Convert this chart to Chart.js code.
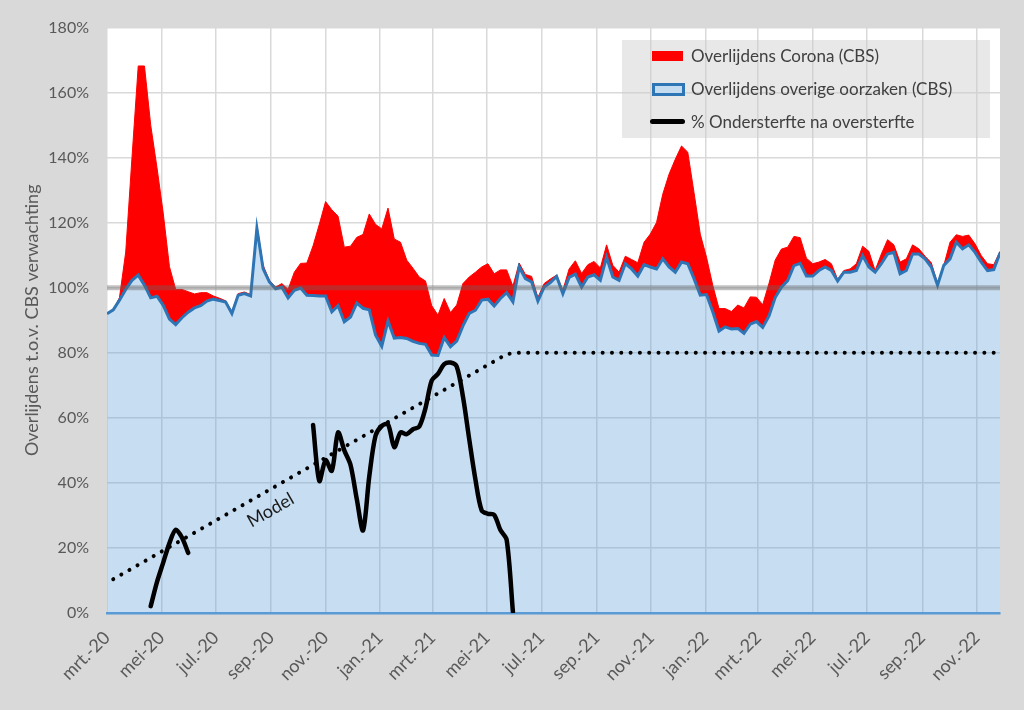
<!DOCTYPE html>
<html lang="nl">
<head>
<meta charset="UTF-8">
<title>Overlijdens t.o.v. CBS verwachting</title>
<script src="https://cdn.jsdelivr.net/npm/chart.js"></script>
<style>
  html, body { margin: 0; padding: 0; background: #d9d9d9; }
  #wrap { position: relative; width: 1024px; height: 710px; overflow: hidden; }
  #legenda {
    position: absolute; left: 622px; top: 40px; width: 368px; height: 98px;
    background: rgba(205, 205, 205, 0.45);
    font-family: Lato, sans-serif; font-size: 17px; color: #404040;
  }
  .rij { position: absolute; left: 69px; height: 20px; line-height: 20px; white-space: nowrap; }
  .sw { position: absolute; box-sizing: border-box; }
</style>
</head>
<body>
<div id="wrap">
  <canvas id="grafiek" width="1024" height="710"></canvas>
  <div id="legenda">
    <span class="sw" style="left:30px; top:11px; width:31px; height:10px; background:#ff0000;"></span>
    <div class="rij" style="top:6px;">Overlijdens Corona (CBS)</div>
    <span class="sw" style="left:30px; top:43px; width:33px; height:13px; background:#c5dcf0; border:3px solid #2e75b6;"></span>
    <div class="rij" style="top:39px;">Overlijdens overige oorzaken (CBS)</div>
    <span class="sw" style="left:28px; top:79px; width:35px; height:5px; background:#000; border-radius:3px;"></span>
    <div class="rij" style="top:72px;">% Ondersterfte na oversterfte</div>
  </div>
</div>

<script>
  // weken vanaf 1 maart 2020, sterfte in % van de CBS verwachting
  const startDatum = '2020-03-01';

  const overige = [
    92.0, 93.2, 96.2, 99.5, 102.3, 103.9, 100.8, 96.9, 97.4, 94.6,
    90.4, 88.7, 90.8, 92.5, 93.8, 94.5, 95.9, 96.5, 96.1, 95.6,
    92.1, 97.7, 98.2, 97.5, 118.3, 105.8, 101.8, 99.7, 100.2, 96.9,
    99.2, 99.9, 97.7, 97.6, 97.5, 97.5, 92.6, 94.5, 89.5, 91.0,
    95.3, 93.7, 93.2, 85.5, 82.0, 89.8, 84.5, 84.7, 84.4, 83.5,
    82.9, 82.6, 79.3, 79.2, 84.7, 81.9, 83.6, 88.3, 92.1, 93.1,
    96.2, 96.5, 94.4, 96.7, 98.5, 95.7, 106.4, 102.8, 101.8, 95.9,
    100.2, 101.6, 103.5, 98.2, 103.2, 104.2, 100.2, 103.3, 104.0, 102.3,
    109.4, 103.3, 102.3, 107.4, 105.8, 103.6, 107.1, 106.4, 105.8, 108.9,
    106.4, 104.8, 107.9, 107.4, 102.8, 97.7, 97.9, 92.6, 86.7, 88.0,
    87.3, 87.5, 86.0, 88.8, 89.6, 87.8, 91.3, 97.0, 100.2, 102.2,
    106.8, 107.5, 103.6, 103.6, 105.3, 106.4, 105.3, 102.1, 104.8, 104.8,
    105.3, 109.9, 106.4, 104.8, 107.4, 110.4, 110.9, 104.3, 105.3, 110.4,
    110.4, 108.9, 106.4, 100.8, 106.9, 108.9, 114.0, 112.0, 113.2, 110.9,
    107.9, 105.3, 105.6, 110.7
  ];

  // totaal = overige oorzaken + corona (bovenrand van het rode vlak)
  const totaal = [
    92.0, 93.2, 97.0, 111.0, 140.0, 168.2, 168.2, 150.0, 137.0, 123.0,
    106.5, 99.5, 99.5, 98.8, 98.1, 98.5, 98.5, 97.5, 96.8, 96.0,
    92.6, 98.2, 98.7, 97.9, 119.3, 106.9, 102.3, 100.2, 101.3, 99.5,
    104.8, 107.5, 107.6, 112.9, 119.5, 126.5, 124.0, 122.0, 112.5, 112.8,
    115.5, 116.4, 122.7, 119.5, 118.1, 124.5, 115.0, 114.0, 108.5, 106.0,
    103.3, 102.1, 94.5, 91.6, 96.7, 92.4, 94.7, 101.3, 103.3, 104.8,
    106.4, 107.4, 104.3, 105.5, 105.5, 100.5, 107.6, 104.1, 103.5, 97.0,
    101.3, 102.7, 103.9, 99.2, 105.8, 108.3, 104.4, 107.1, 108.1, 106.1,
    113.2, 106.9, 104.8, 109.7, 108.7, 107.7, 114.0, 116.5, 120.1, 128.8,
    134.9, 139.5, 143.6, 141.7, 129.3, 116.5, 109.4, 100.8, 93.6, 93.6,
    92.7, 94.7, 93.8, 97.2, 97.1, 94.8, 101.3, 108.5, 111.9, 112.5,
    115.8, 115.4, 109.1, 107.4, 107.9, 108.7, 107.4, 102.6, 105.3, 105.8,
    107.4, 112.8, 111.2, 105.3, 110.4, 114.8, 113.2, 107.9, 108.9, 113.2,
    112.0, 109.7, 107.7, 101.3, 106.9, 114.0, 116.3, 115.8, 116.2, 113.5,
    109.9, 107.4, 107.1, 111.2
  ];

  // % ondersterfte na oversterfte, twee losse stukken
  const onderStart1 = 7;
  const onder1 = [2.1, 9.5, 15.5, 21.5, 25.6, 23.2, 18.5];
  const onderStart2 = 33;
  const onder2 = [
    57.8, 40.6, 47.0, 43.7, 55.5, 50.0, 45.5, 35.0, 25.4, 42.0,
    54.5, 57.5, 58.0, 51.0, 55.5, 55.0, 56.5, 57.3, 63.0, 71.5,
    73.5, 76.5, 77.0, 75.8, 66.5, 53.5, 41.0, 31.5, 30.5, 30.2,
    25.5, 22.5, 0.4
  ];

  // modellijn (knikpunten)
  const modelWeken = [1, 64, 66, 143];
  const modelWaarden = [10.4, 79.6, 80, 80];

  const tickLabels = ['mrt.-20', 'mei-20', 'jul.-20', 'sep.-20', 'nov.-20', 'jan.-21',
    'mrt.-21', 'mei-21', 'jul.-21', 'sep.-21', 'nov.-21', 'jan.-22',
    'mrt.-22', 'mei-22', 'jul.-22', 'sep.-22', 'nov.-22'];
  const tickDatums = ['2020-03-01', '2020-05-01', '2020-07-01', '2020-09-01', '2020-11-01', '2021-01-01',
    '2021-03-01', '2021-05-01', '2021-07-01', '2021-09-01', '2021-11-01', '2022-01-01',
    '2022-03-01', '2022-05-01', '2022-07-01', '2022-09-01', '2022-11-01'];

  const verwachting = 100;

  const WEEK = 7 * 24 * 3600 * 1000;
  const tickWeken = tickDatums.map(d => (Date.parse(d) - Date.parse(startDatum)) / WEEK);

  const punten = (arr, start) => arr.map((v, k) => ({ x: start + k, y: v }));

  const ondersterfte = [
    ...punten(onder1, onderStart1),
    { x: onderStart1 + onder1.length, y: null },
    ...punten(onder2, onderStart2)
  ];
  const model = modelWeken.map((w, k) => ({ x: w, y: modelWaarden[k] }));

  // grijze achtergrond, wit plotvlak
  const achtergrond = {
    id: 'achtergrond',
    beforeDraw(chart) {
      const { ctx, chartArea: a } = chart;
      ctx.save();
      ctx.fillStyle = '#d9d9d9';
      ctx.fillRect(0, 0, chart.width, chart.height);
      ctx.fillStyle = '#ffffff';
      ctx.fillRect(a.left, a.top, a.right - a.left, a.bottom - a.top);
      ctx.restore();
    }
  };

  // 100%-lijn en het woord "Model" langs de stippellijn
  const extra = {
    id: 'extra',
    afterDatasetsDraw(chart) {
      const { ctx, chartArea: a, scales: { x, y } } = chart;
      ctx.save();
      const yp = y.getPixelForValue(verwachting);
      ctx.strokeStyle = 'rgba(100, 100, 100, 0.4)';
      ctx.lineWidth = 5;
      ctx.beginPath();
      ctx.moveTo(a.left, yp);
      ctx.lineTo(a.right, yp);
      ctx.stroke();

      const hoek = Math.atan2(
        y.getPixelForValue(modelWaarden[1]) - y.getPixelForValue(modelWaarden[0]),
        x.getPixelForValue(modelWeken[1]) - x.getPixelForValue(modelWeken[0]));
      ctx.translate(x.getPixelForValue(26.2), y.getPixelForValue(31.6));
      ctx.rotate(hoek);
      ctx.fillStyle = '#1a1a1a';
      ctx.font = '18px Lato';
      ctx.textAlign = 'center';
      ctx.textBaseline = 'middle';
      ctx.fillText('Model', 0, 0);
      ctx.restore();
    }
  };

  Chart.defaults.font.family = 'Lato';
  Chart.defaults.font.size = 16;

  new Chart(document.getElementById('grafiek'), {
    type: 'line',
    data: {
      datasets: [
        {
          label: 'Overlijdens overige oorzaken (CBS)',
          data: punten(overige, 0),
          borderColor: '#2e75b6',
          borderWidth: 3,
          backgroundColor: 'rgba(91, 155, 213, 0.34)',
          fill: 'origin',
          pointRadius: 0,
          tension: 0,
          order: 1
        },
        {
          label: 'Overlijdens Corona (CBS)',
          data: punten(totaal, 0),
          borderColor: '#ff0000',
          borderWidth: 1,
          backgroundColor: '#ff0000',
          fill: '-1',
          pointRadius: 0,
          tension: 0,
          order: 2
        },
        {
          label: 'Model',
          data: model,
          borderColor: '#000000',
          borderWidth: 4,
          borderDash: [0.01, 9.3],
          borderCapStyle: 'round',
          fill: false,
          pointRadius: 0,
          tension: 0,
          order: 0
        },
        {
          label: '% Ondersterfte na oversterfte',
          data: ondersterfte,
          borderColor: '#000000',
          borderWidth: 4.5,
          borderCapStyle: 'round',
          borderJoinStyle: 'round',
          fill: false,
          pointRadius: 0,
          tension: 0.3,
          spanGaps: false,
          order: 0
        }
      ]
    },
    options: {
      responsive: false,
      animation: false,
      layout: { padding: { top: 24, right: 24, bottom: 0, left: 0 } },
      plugins: {
        legend: { display: false },
        tooltip: { enabled: false }
      },
      scales: {
        x: {
          type: 'linear',
          min: 0,
          max: 143,
          afterBuildTicks: s => { s.ticks = tickWeken.map(v => ({ value: v })); },
          afterFit: s => { s.height = 97; },
          ticks: {
            autoSkip: false,
            maxRotation: 45,
            minRotation: 45,
            padding: 14,
            color: '#595959',
            font: { size: 18 },
            callback: (v, i) => tickLabels[i]
          },
          grid: { color: '#d9d9d9', lineWidth: 1.5, drawTicks: false },
          border: { display: true, color: '#5b9bd5', width: 2.5 }
        },
        y: {
          min: 0,
          max: 180,
          afterFit: s => { s.width = 107; },
          ticks: {
            stepSize: 20,
            padding: 18,
            color: '#595959',
            callback: v => v + '%'
          },
          grid: { color: '#d9d9d9', lineWidth: 1.5, drawTicks: false },
          border: { display: false },
          title: {
            display: true,
            text: 'Overlijdens t.o.v. CBS verwachting',
            color: '#595959',
            font: { size: 18 },
            padding: { top: 21, bottom: 0 }
          }
        }
      }
    },
    plugins: [achtergrond, extra]
  });
</script>
</body>
</html>
